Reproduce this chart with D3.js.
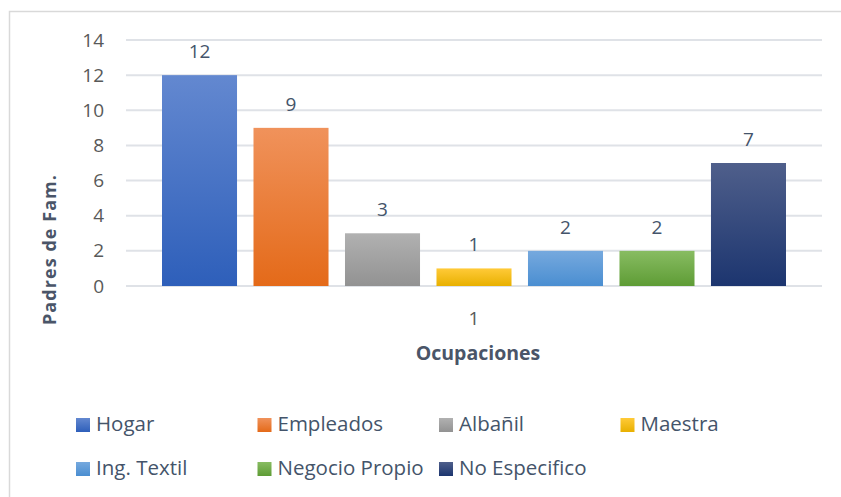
<!DOCTYPE html>
<html>
<head>
<meta charset="utf-8">
<script src="https://cdn.jsdelivr.net/npm/d3@7"></script>
<style>
  body { margin: 0; background: #fff; }
  text { font-family: "Open Sans", sans-serif; }
</style>
</head>
<body>
<div id="chart"></div>
<script>
'use strict';

const categories = ['1'];
const series = ['Hogar', 'Empleados', 'Albañil', 'Maestra', 'Ing. Textil', 'Negocio Propio', 'No Especifico'];
const values = [12, 9, 3, 1, 2, 2, 7];
const yTicks = [0, 2, 4, 6, 8, 10, 12, 14];
const colorsTop = ['#6388d0', '#f0925b', '#b1b1b1', '#ffca38', '#76a9de', '#88bc62', '#4f5f8b'];
const colorsBottom = ['#2e5fba', '#e46a19', '#929292', '#e8b000', '#4a8ed1', '#5e9c35', '#1c356f'];

const w = 841, h = 497;
const plot = {left: 126, right: 822, top: 40, bottom: 286};

const svg = d3.select('#chart').append('svg').attr('width', w).attr('height', h);

// outer chart border
svg.append('rect').attr('x', 9.5).attr('y', 11.5).attr('width', w + 10).attr('height', h + 10)
  .attr('fill', 'none').attr('stroke', '#d9d9d9').attr('stroke-width', 1.5);

const defs = svg.append('defs');
series.forEach(function(s, i) {
  const g = defs.append('linearGradient').attr('id', 'grad' + i).attr('x1', 0).attr('y1', 0).attr('x2', 0).attr('y2', 1);
  g.append('stop').attr('offset', '0%').attr('stop-color', colorsTop[i]);
  g.append('stop').attr('offset', '100%').attr('stop-color', colorsBottom[i]);
});

const y = d3.scaleLinear().domain([0, 14]).range([plot.bottom, plot.top]);
const x0 = d3.scaleBand().domain(categories).range([plot.left, plot.right]);
const x1 = d3.scaleBand().domain(series).range([36, x0.bandwidth() - 36]).paddingInner(0.18);

// gridlines
svg.append('g').selectAll('line').data(yTicks).enter().append('line')
  .attr('x1', plot.left).attr('x2', plot.right)
  .attr('y1', function(d){ return y(d); }).attr('y2', function(d){ return y(d); })
  .attr('stroke', '#dfe2e7').attr('stroke-width', 2);

// y axis labels
const yAxis = svg.append('g').attr('transform', 'translate(104,0)')
  .call(d3.axisLeft(y).tickValues(yTicks).tickSize(0).tickPadding(0));
yAxis.select('.domain').remove();
yAxis.selectAll('text').attr('fill', '#595959').style('font-size', '19px').style('font-family', '"Open Sans", sans-serif');

// bars
const group = svg.append('g').selectAll('g').data(categories).enter().append('g')
  .attr('transform', function(d){ return 'translate(' + x0(d) + ',0)'; });

group.selectAll('rect').data(series).enter().append('rect')
  .attr('x', function(d){ return x1(d); })
  .attr('y', function(d, i){ return y(values[i]); })
  .attr('width', x1.bandwidth())
  .attr('height', function(d, i){ return y(0) - y(values[i]); })
  .attr('fill', function(d, i){ return 'url(#grad' + i + ')'; });

group.selectAll('text.val').data(series).enter().append('text').attr('class', 'val')
  .attr('x', function(d){ return x1(d) + x1.bandwidth() / 2; })
  .attr('y', function(d, i){ return y(values[i]) - 17; })
  .attr('text-anchor', 'middle').attr('fill', '#44546a').style('font-size', '19px')
  .text(function(d, i){ return values[i]; });

// category label
svg.append('g').selectAll('text').data(categories).enter().append('text')
  .attr('x', function(d){ return x0(d) + x0.bandwidth() / 2; }).attr('y', 325)
  .attr('text-anchor', 'middle').attr('fill', '#595959').style('font-size', '19px')
  .text(function(d){ return d; });

// axis titles
svg.append('text').attr('x', 478).attr('y', 360).attr('text-anchor', 'middle')
  .attr('fill', '#4a5568').style('font-size', '19.5px').style('font-weight', 'bold')
  .text('Ocupaciones');
svg.append('text').attr('transform', 'translate(56,250) rotate(-90)').attr('text-anchor', 'middle')
  .attr('fill', '#4a5568').style('font-size', '18px').style('font-weight', 'bold')
  .attr('textLength', 150).attr('lengthAdjust', 'spacing')
  .text('Padres de Fam.');

// legend
const legend = svg.append('g').selectAll('g').data(series).enter().append('g')
  .attr('transform', function(d, i){ return 'translate(' + (76 + (i % 4) * 181.5) + ',' + (418 + Math.floor(i / 4) * 44) + ')'; });
legend.append('rect').attr('width', 14).attr('height', 14)
  .attr('fill', function(d, i){ return 'url(#grad' + i + ')'; });
legend.append('text').attr('x', 20).attr('y', 13).attr('fill', '#44546a').style('font-size', '20.5px')
  .text(function(d){ return d; });
</script>
</body>
</html>
